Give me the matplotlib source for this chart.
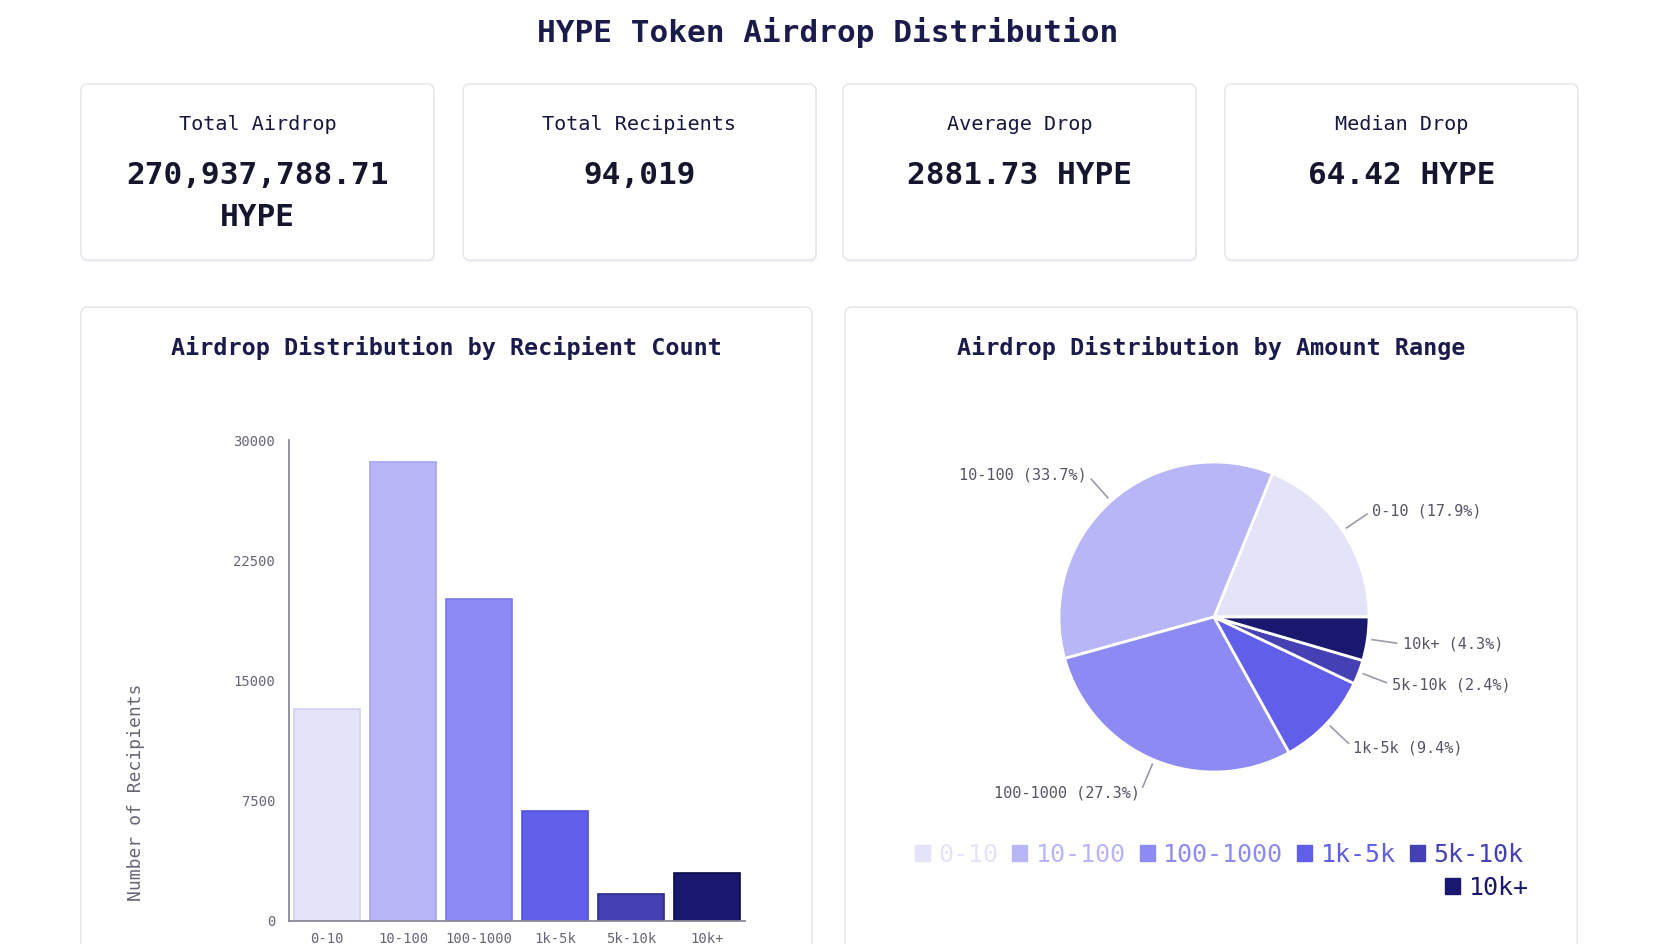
import numpy as np
import matplotlib
matplotlib.use("Agg")
import matplotlib.pyplot as plt
from matplotlib.patches import FancyBboxPatch, Patch

# ---------------- data ----------------
categories = ['0-10', '10-100', '100-1000', '1k-5k', '5k-10k', '10k+']
recipient_counts = [13230, 28600, 20100, 6880, 1670, 3010]
amount_share_pct = [17.9, 33.7, 27.3, 9.4, 2.4, 4.3]
y_ticks = [0, 7500, 15000, 22500, 30000]

stat_labels = ['Total Airdrop', 'Total Recipients', 'Average Drop', 'Median Drop']
stat_values = ['270,937,788.71\nHYPE', '94,019', '2881.73 HYPE', '64.42 HYPE']

main_title = 'HYPE Token Airdrop Distribution'
bar_title = 'Airdrop Distribution by Recipient Count'
pie_title = 'Airdrop Distribution by Amount Range'
y_label = 'Number of Recipients'

# ---------------- style ----------------
colors = ['#e4e3f7', '#b8b6f6', '#8d8bf3', '#615ee9', '#4541b5', '#19186e']
edges = ['#d2d1ef', '#a7a5ee', '#7b79e6', '#5350d6', '#2d2a8e', '#0b0b45']
navy = '#1b1b4b'
mono = 'DejaVu Sans Mono'
plt.rcParams['font.family'] = [mono, 'DejaVu Sans']

W, H = 1680, 944
fig = plt.figure(figsize=(W / 100, H / 100), dpi=100)
fig.patch.set_facecolor('white')


def card(x0, y0, x1, y1):
    shadow = FancyBboxPatch((x0 + 1, H - y1 - 2), x1 - x0, y1 - y0,
                            boxstyle='round,pad=0,rounding_size=7',
                            transform=None, facecolor='#f1f1f4',
                            edgecolor='none', zorder=-3)
    box = FancyBboxPatch((x0, H - y1), x1 - x0, y1 - y0,
                         boxstyle='round,pad=0,rounding_size=7',
                         transform=None, facecolor='white',
                         edgecolor='#e7e7ed', linewidth=1.2, zorder=-2)
    fig.add_artist(shadow)
    fig.add_artist(box)


def ftext(x, y, s, **kw):
    return fig.text(x / W, 1 - y / H, s, **kw)


def add_axes_px(x0, y0, x1, y1):
    a = fig.add_axes([x0 / W, 1 - y1 / H, (x1 - x0) / W, (y1 - y0) / H])
    a.set_zorder(2)
    return a


# title
ftext(828, 32, main_title, ha='center', va='center', fontsize=22.4,
      fontweight='bold', color=navy)

# stat cards
card_x = [81, 463, 843, 1225]
card_w = 353
for x0, lab, val in zip(card_x, stat_labels, stat_values):
    card(x0, 84, x0 + card_w, 260)
    cx = x0 + card_w / 2
    ftext(cx, 124, lab, ha='center', va='center', fontsize=14.5,
          color='#17173f')
    ftext(cx, 161, val, ha='center', va='top', fontsize=22.4,
          fontweight='bold', color='#15152e', linespacing=1.55)

# panels
card(81, 307, 812, 980)
card(845, 307, 1577, 980)
ftext(446, 348, bar_title, ha='center', va='center', fontsize=16.8,
      fontweight='bold', color=navy)
ftext(1211, 348, pie_title, ha='center', va='center', fontsize=16.8,
      fontweight='bold', color=navy)

# ---------------- bar chart ----------------
ax = add_axes_px(289, 440, 745, 921)
x = np.arange(len(categories))
ax.bar(x, recipient_counts, width=0.88, color=colors, edgecolor=edges,
       linewidth=1.2, zorder=2)
ax.set_xlim(-0.5, len(categories) - 0.5)
ax.set_ylim(0, 30000)
ax.set_yticks(y_ticks)
ax.set_yticklabels([str(t) for t in y_ticks])
ax.set_xticks(x)
ax.set_xticklabels(categories)
ax.tick_params(axis='both', length=0, labelsize=10, colors='#666677')
ax.tick_params(axis='y', pad=10)
ax.tick_params(axis='x', pad=8)
for s in ['top', 'right']:
    ax.spines[s].set_visible(False)
for s in ['left', 'bottom']:
    ax.spines[s].set_color('#8a8a99')
    ax.spines[s].set_linewidth(1.3)
ax.set_facecolor('none')
ax.set_ylabel(y_label, fontsize=13, color='#666677')
ax.yaxis.set_label_coords((145 - 289) / (745 - 289), (921 - 792) / (921 - 440))

# ---------------- pie chart ----------------
cx, cy, R = 1214, 617, 155
L = 1.6
pax = add_axes_px(cx - R * L, cy - R * L, cx + R * L, cy + R * L)
pie_labels = [f'{c} ({p}%)' for c, p in zip(categories, amount_share_pct)]
wedges, texts = pax.pie(amount_share_pct, labels=pie_labels, colors=colors,
                        startangle=0, counterclock=True, labeldistance=1.23,
                        wedgeprops=dict(edgecolor='white', linewidth=2),
                        textprops=dict(fontsize=11, color='#555566'))
for w in wedges:
    ang = np.deg2rad((w.theta1 + w.theta2) / 2)
    r0, r1 = 1.03, 1.19
    pax.plot([r0 * np.cos(ang), r1 * np.cos(ang)],
             [r0 * np.sin(ang), r1 * np.sin(ang)],
             color='#9a9aa8', linewidth=1.2, clip_on=False)
pax.set_xlim(-L, L)
pax.set_ylim(-L, L)
pax.set_aspect('equal')
pax.axis('off')

# legend
handles = [Patch(facecolor=c, edgecolor=c) for c in colors]
leg1 = fig.legend(handles[:5], categories[:5], loc='center',
                  bbox_to_anchor=(1219 / W, 1 - 855 / H), ncol=5,
                  frameon=False, fontsize=18, handlelength=0.6,
                  handleheight=0.6, handletextpad=0.35, columnspacing=0.55)
for t, c in zip(leg1.get_texts(), colors[:5]):
    t.set_color(c)
leg2 = fig.legend(handles[5:], categories[5:], loc='center right',
                  bbox_to_anchor=(1529 / W, 1 - 888 / H), ncol=1,
                  frameon=False, fontsize=18, handlelength=0.6,
                  handleheight=0.6, handletextpad=0.35, borderpad=0,
                  borderaxespad=0)
for t, c in zip(leg2.get_texts(), colors[5:]):
    t.set_color(c)

fig.savefig('out.png', dpi=100, facecolor='white')
